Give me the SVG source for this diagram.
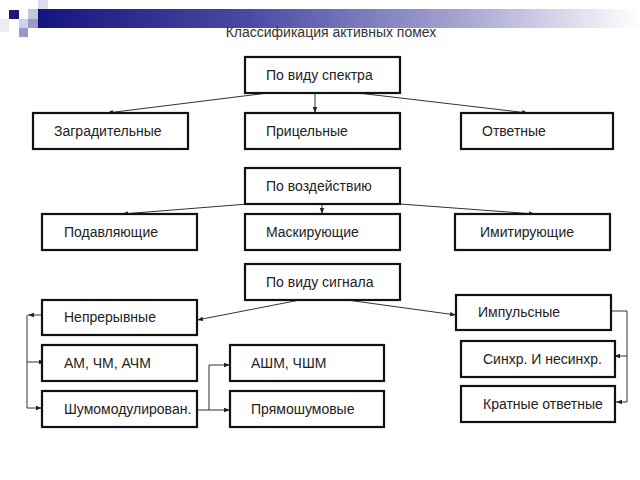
<svg xmlns="http://www.w3.org/2000/svg" width="640" height="480" viewBox="0 0 640 480">
<defs>
<linearGradient id="bar" x1="0" y1="0" x2="1" y2="0">
<stop offset="0" stop-color="#14147e"/>
<stop offset="0.35" stop-color="#4a4aa4"/>
<stop offset="0.7" stop-color="#a4a4d0"/>
<stop offset="1" stop-color="#ffffff"/>
</linearGradient>
<marker id="ah" viewBox="0 0 6 6" refX="6" refY="3" markerWidth="6" markerHeight="6" markerUnits="userSpaceOnUse" orient="auto">
<path d="M0,0.8 L6,3 L0,5.2 Z" fill="#222"/>
</marker>
<style>
.box{fill:#fff;stroke:#111;stroke-width:2.2}
.lbl{font-family:"Liberation Sans",Arial,sans-serif;font-size:14px;fill:#222}
.con{fill:none;stroke:#333;stroke-width:1}
.title{font-family:"Liberation Sans",Arial,sans-serif;font-size:14px;fill:#333;text-anchor:middle}
</style>
</defs>
<rect width="640" height="480" fill="#fff"/>
<g id="header">
<rect x="38" y="9" width="602" height="19" fill="url(#bar)"/>
<rect x="38" y="0" width="10" height="9" fill="#dcdcec"/>
<rect x="9" y="10" width="10" height="9" fill="#1a1a7c"/>
<rect x="28" y="9" width="10" height="10" fill="#c4c4de"/>
<rect x="28" y="19" width="10" height="9" fill="#9a9acc"/>
<rect x="19" y="19" width="9" height="9" fill="#d0d0e6"/>
<rect x="19" y="28" width="9" height="9" fill="#9898c6"/>
<rect x="0" y="19" width="9" height="13" fill="#ececf4"/>
<text class="title" x="331" y="37">Классификация активных помех</text>
</g>
<g id="connectors">
<path class="con" d="M268,93 L107,113" marker-end="url(#ah)"/>
<path class="con" d="M315,93 L315,113" marker-end="url(#ah)"/>
<path class="con" d="M358,93 L528,113" marker-end="url(#ah)"/>
<path class="con" d="M248,204 L122,214" marker-end="url(#ah)"/>
<path class="con" d="M322,204 L322,214" marker-end="url(#ah)"/>
<path class="con" d="M400,204 L535,214" marker-end="url(#ah)"/>
<path class="con" d="M300,300 L197,320" marker-end="url(#ah)"/>
<path class="con" d="M347,300 L456,315" marker-end="url(#ah)"/>
<path class="con" d="M42,315 H28" marker-end="url(#ah)"/>
<path class="con" d="M27,315 V408 H42" marker-end="url(#ah)"/>
<path class="con" d="M27,362 H45" marker-end="url(#ah)"/>
<path class="con" d="M197,410 H209 V365 H230" marker-end="url(#ah)"/>
<path class="con" d="M209,410 H230" marker-end="url(#ah)"/>
<path class="con" d="M611,311 H627 V402 H616" marker-end="url(#ah)"/>
<path class="con" d="M627,356 H614" marker-end="url(#ah)"/>
</g>
<g id="n-spectrum"><rect class="box" x="245" y="57" width="155" height="36"/><text class="lbl" x="266" y="80">По виду спектра</text></g>
<g id="n-zagrad"><rect class="box" x="33" y="113" width="155" height="36"/><text class="lbl" x="54" y="136">Заградительные</text></g>
<g id="n-pricel"><rect class="box" x="245" y="113" width="155" height="36"/><text class="lbl" x="266" y="136">Прицельные</text></g>
<g id="n-otvet"><rect class="box" x="461" y="113" width="152" height="36"/><text class="lbl" x="482" y="136">Ответные</text></g>
<g id="n-vozd"><rect class="box" x="245" y="168" width="155" height="36"/><text class="lbl" x="266" y="191">По воздействию</text></g>
<g id="n-podavl"><rect class="box" x="42" y="214" width="155" height="36"/><text class="lbl" x="64" y="237">Подавляющие</text></g>
<g id="n-mask"><rect class="box" x="245" y="214" width="155" height="36"/><text class="lbl" x="266" y="237">Маскирующие</text></g>
<g id="n-imit"><rect class="box" x="455" y="214" width="155" height="36"/><text class="lbl" x="480" y="237">Имитирующие</text></g>
<g id="n-signal"><rect class="box" x="245" y="264" width="155" height="36"/><text class="lbl" x="266" y="287">По виду сигнала</text></g>
<g id="n-nepr"><rect class="box" x="42" y="300" width="155" height="35"/><text class="lbl" x="64" y="322">Непрерывные</text></g>
<g id="n-am"><rect class="box" x="42" y="345" width="155" height="36"/><text class="lbl" x="64" y="368">АМ, ЧМ, АЧМ</text></g>
<g id="n-shum"><rect class="box" x="42" y="391" width="155" height="36"/><text class="lbl" x="64" y="414">Шумомодулирован.</text></g>
<g id="n-ashm"><rect class="box" x="230" y="345" width="154" height="36"/><text class="lbl" x="251" y="368">АШМ, ЧШМ</text></g>
<g id="n-pryam"><rect class="box" x="230" y="391" width="154" height="36"/><text class="lbl" x="251" y="414">Прямошумовые</text></g>
<g id="n-imp"><rect class="box" x="456" y="295" width="155" height="35"/><text class="lbl" x="478" y="317">Импульсные</text></g>
<g id="n-sinhr"><rect class="box" x="461" y="341" width="154" height="36"/><text class="lbl" x="483" y="364">Синхр. И несинхр.</text></g>
<g id="n-krat"><rect class="box" x="461" y="386" width="154" height="36"/><text class="lbl" x="483" y="409">Кратные ответные</text></g>
</svg>
